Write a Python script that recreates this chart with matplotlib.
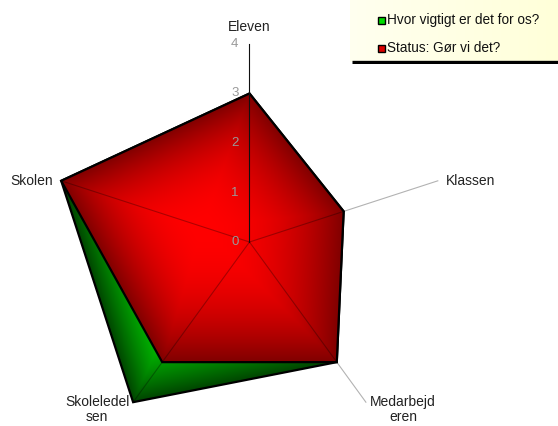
import numpy as np
import matplotlib
matplotlib.use('Agg')
import matplotlib.pyplot as plt
from matplotlib.patches import Polygon, Rectangle

plt.rcParams['font.family'] = ['Liberation Sans', 'DejaVu Sans']

# Data
categories = ['Eleven', 'Klassen', 'Medarbejd\neren', 'Skoleledel\nsen', 'Skolen']
importance = [3, 2, 3, 4, 4]   # Hvor vigtigt er det for os?
status = [3, 2, 3, 3, 4]       # Status: Gør vi det?
series_names = ['Hvor vigtigt er det for os?', 'Status: Gør vi det?']
ticks = [0, 1, 2, 3, 4]
rmax = 4

W, H = 558, 426
PX = 49.5          # pixels per unit
CX, CY = 249.5, 242

angles = np.deg2rad(90 - 72 * np.arange(len(categories)))


def to_xy(vals):
    vals = np.asarray(vals, dtype=float)
    return vals * np.cos(angles), vals * np.sin(angles)


def path_gradient(ax, xs, ys, c_center, c_edge, zorder, gamma=2.2):
    # gdi-like path gradient: colour goes from centre to polygon edge
    cx = (xs.min() + xs.max()) / 2
    cy = (ys.min() + ys.max()) / 2
    n = 500
    gx = np.linspace(xs.min(), xs.max(), n)
    gy = np.linspace(ys.min(), ys.max(), n)
    X, Y = np.meshgrid(gx, gy)
    dx = X - cx
    dy = Y - cy
    best = np.full(X.shape, np.inf)
    m = len(xs)
    for i in range(m):
        ax_, ay_ = xs[i], ys[i]
        bx_, by_ = xs[(i + 1) % m], ys[(i + 1) % m]
        ex, ey = bx_ - ax_, by_ - ay_
        wx, wy = ax_ - cx, ay_ - cy
        den = dx * ey - dy * ex
        with np.errstate(divide='ignore', invalid='ignore'):
            s = (wx * ey - wy * ex) / den
            u = (wx * dy - wy * dx) / den
        ok = (s > 0) & (u >= -1e-9) & (u <= 1 + 1e-9)
        best = np.where(ok & (s < best), s, best)
    t = np.clip(1.0 / best, 0, 1) ** gamma
    c0 = np.array(c_center)
    c1 = np.array(c_edge)
    img = c0[None, None, :] + (c1 - c0)[None, None, :] * t[..., None]
    poly = Polygon(np.column_stack([xs, ys]), closed=True, facecolor='none',
                   edgecolor='none', transform=ax.transData)
    im = ax.imshow(img, extent=(gx[0], gx[-1], gy[0], gy[-1]), origin='lower',
                   interpolation='bilinear', zorder=zorder, aspect='auto')
    im.set_clip_path(poly)


fig = plt.figure(figsize=(W / 100, H / 100), dpi=100)
ax = fig.add_axes([0, 0, 1, 1])
ax.set_xlim(-CX / PX, (W - CX) / PX)
ax.set_ylim(-(H - CY) / PX, CY / PX)
ax.axis('off')

gx_, gy_ = to_xy(importance)
rx_, ry_ = to_xy(status)

path_gradient(ax, gx_, gy_, (0.0, 1.0, 0.0), (0.0, 0.27, 0.0), zorder=2)
ax.fill(gx_, gy_, facecolor='none', edgecolor='black', lw=1.6, zorder=2.5)
path_gradient(ax, rx_, ry_, (1.0, 0.0, 0.0), (0.5, 0.0, 0.0), zorder=3)
ax.fill(rx_, ry_, facecolor='none', edgecolor='black', lw=1.6, zorder=3.5)

# spokes
sx, sy = to_xy([rmax] * len(categories))
for i in range(len(categories)):
    if i == 0:
        ax.plot([0, sx[i]], [0, sy[i]], color='#101010', lw=0.8, zorder=5)
    else:
        ax.plot([0, sx[i]], [0, sy[i]], color='black', alpha=0.3, lw=0.8, zorder=4)

# radial tick labels along first axis
for tk in ticks:
    ax.annotate(str(tk), xy=(0, tk), xytext=(-11, 0), textcoords='offset pixels',
                ha='right', va='center', fontsize=9.5, color='#999999', zorder=6)

# category labels
offsets = [(0, 17, 'center'), (8, 0, 'left'), (37, -7, 'center'),
           (-36, -7, 'center'), (-8, 0, 'right')]
for i, lab in enumerate(categories):
    ox, oy, ha = offsets[i]
    ax.annotate(lab, xy=(sx[i], sy[i]), xytext=(ox, oy), textcoords='offset pixels',
                ha=ha, va='center', fontsize=10, color='#222222',
                multialignment='center', linespacing=1.1)

# legend box
lax = fig.add_axes([350 / W, (H - 64) / H, 208 / W, 64 / H])
lax.set_xlim(0, 208)
lax.set_ylim(64, 0)
lax.axis('off')
grad = np.linspace(0, 1, 256)
bg = np.zeros((2, 256, 3))
bg[..., 0] = 1.0
bg[..., 1] = 1.0
bg[..., 2] = 0.94 - 0.09 * grad
lax.imshow(bg, extent=(0, 208, 62, 0), aspect='auto', interpolation='bilinear')
lax.plot([2, 208], [62, 62], color='black', lw=2.4, solid_capstyle='butt')
leg_colors = ['#00dd00', '#dd0000']
for j, name in enumerate(series_names):
    yc = 20 + 28 * j
    lax.add_patch(Rectangle((27.5, yc - 3.5), 7, 7, facecolor=leg_colors[j],
                            edgecolor='black', lw=1.0))
    lax.text(37, yc, name, ha='left', va='center', fontsize=9.8, color='#111111')

fig.savefig('out.png', dpi=100)
